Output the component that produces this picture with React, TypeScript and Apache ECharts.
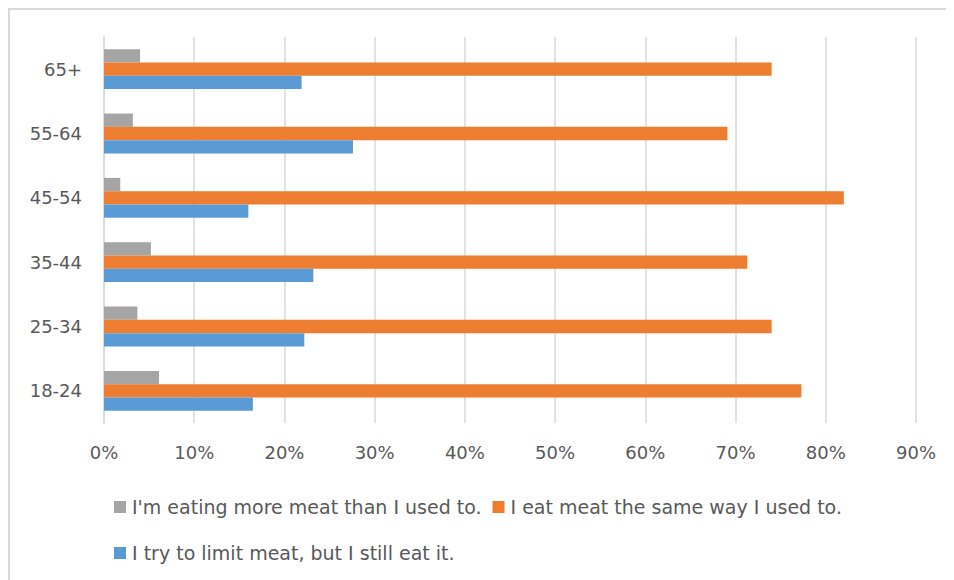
import React, { useEffect, useRef } from "react";
import * as echarts from "echarts";

const categories = ["18-24", "25-34", "35-44", "45-54", "55-64", "65+"];
const moreMeat = [0.061, 0.037, 0.052, 0.018, 0.032, 0.04];
const sameMeat = [0.773, 0.74, 0.713, 0.82, 0.691, 0.74];
const limitMeat = [0.165, 0.222, 0.232, 0.16, 0.276, 0.219];
const seriesNames = [
  "I'm eating more meat than I used to.",
  "I eat meat the same way I used to.",
  "I try to limit meat, but I still eat it.",
];
const colors = ["#A5A5A5", "#ED7D31", "#5B9BD5"];
const xTicks = { min: 0, max: 0.9, interval: 0.1 };

const FONT = "DejaVu Sans";
const TEXT = "#595959";

export default function App() {
  const ref = useRef<HTMLDivElement>(null);
  useEffect(() => {
    document.body.style.overflow = "hidden";
    if (!ref.current) return;
    const chart = echarts.init(ref.current, undefined, { renderer: "svg" });
    const legendCommon = {
      orient: "horizontal" as const,
      icon: "rect",
      itemWidth: 12,
      itemHeight: 12,
      itemGap: 11,
      padding: 0,
      left: 104,
      textStyle: { color: TEXT, fontFamily: FONT, fontSize: 19, lineHeight: 20, padding: [0, 0, 0, 1] },
    };
    chart.setOption({
      animation: false,
      color: colors,
      grid: { left: 94, top: 27, right: 38, bottom: 157, containLabel: false },
      legend: [
        { ...legendCommon, top: 487, data: [seriesNames[0], seriesNames[1]] },
        { ...legendCommon, top: 533, data: [seriesNames[2]] },
      ],
      xAxis: {
        type: "value",
        min: xTicks.min,
        max: xTicks.max,
        interval: xTicks.interval,
        axisLine: { show: false },
        axisTick: { show: false },
        splitLine: { show: true, lineStyle: { color: "#D9D9D9", width: 1.5 } },
        axisLabel: {
          margin: 20,
          color: TEXT,
          fontFamily: FONT,
          fontSize: 18,
          formatter: (v: number) => Math.round(v * 100) + "%",
        },
      },
      yAxis: {
        type: "category",
        data: categories,
        axisLine: { show: true, lineStyle: { color: "#D9D9D9", width: 1.5 } },
        axisTick: { show: false },
        axisLabel: { margin: 22, color: TEXT, fontFamily: FONT, fontSize: 18 },
      },
      series: [
        { name: seriesNames[0], type: "bar", data: moreMeat, barGap: "0%", barCategoryGap: "38%" },
        { name: seriesNames[1], type: "bar", data: sameMeat, barGap: "0%", barCategoryGap: "38%" },
        { name: seriesNames[2], type: "bar", data: limitMeat, barGap: "0%", barCategoryGap: "38%" },
      ],
    });
    return () => chart.dispose();
  }, []);
  return (
    <div
      style={{
        width: 960,
        height: 580,
        boxSizing: "border-box",
        borderLeft: "2px solid #D9D9D9",
        borderTop: "2px solid #D9D9D9",
        background: "#fff",
      }}
    >
      <div ref={ref} style={{ width: 944, height: 570 }} />
    </div>
  );
}
